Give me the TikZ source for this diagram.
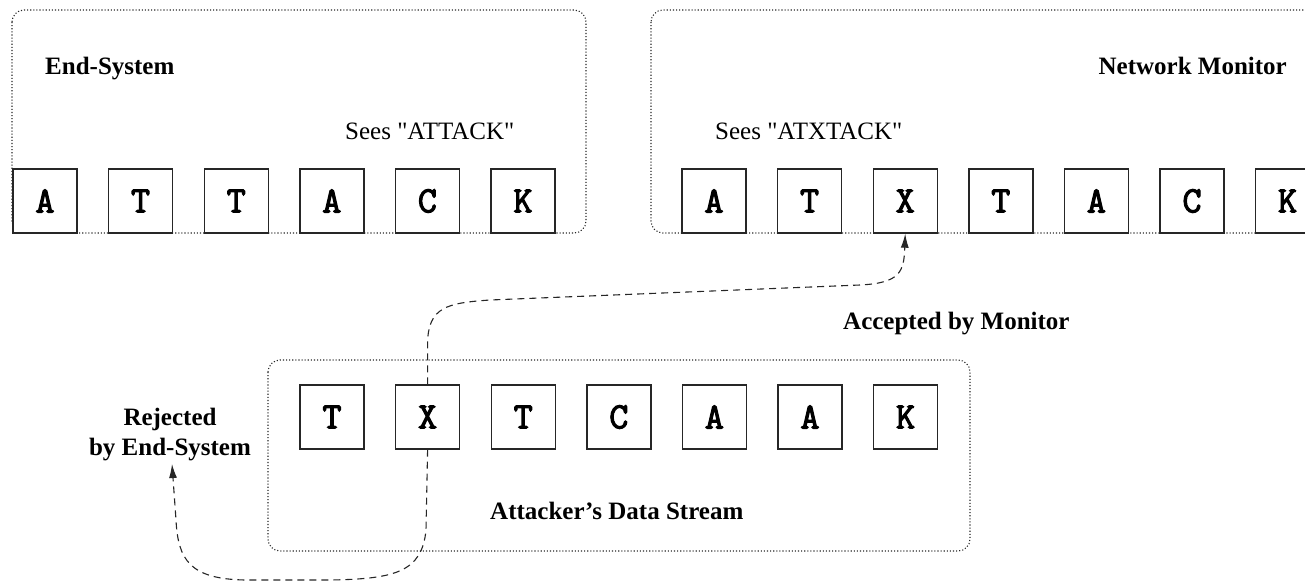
\documentclass[tikz,border=0pt]{standalone}
\usepackage{fontspec}
\setmainfont{Liberation Serif}
\newfontfamily\qfont{Liberation Serif}
\newfontfamily\monofam{Latin Modern Mono}[FakeBold=3]
\usetikzlibrary{arrows.meta}
\begin{document}
\begin{tikzpicture}[x=1pt,y=-1pt,
 region/.style={draw=black!85, dotted, line width=1.1pt, rounded corners=12pt},
 letter/.style={draw=black!85, fill=white, line width=1.4pt, minimum size=64pt, inner sep=0pt, font=\monofam\bfseries\fontsize{37}{37}\selectfont},
 lbl/.style={inner sep=0pt, font=\qfont\fontsize{25}{30}\selectfont},
 blbl/.style={inner sep=0pt, font=\bfseries\fontsize{25}{30}\selectfont},
 flow/.style={line width=1.1pt, draw=black!85, dash pattern=on 7pt off 5pt, -{Latex[length=14pt,width=8pt]}}
]
\useasboundingbox (0,0) rectangle (1305,581);
\clip (0,0) rectangle (1305,581);
% regions
\draw[region] (12,10) rectangle (586,233);
\draw[region] (651,10) rectangle (1340,233);
\draw[region] (268,360) rectangle (970,551);
% letters
\foreach \l [count=\i] in {A,T,T,A,C,K}
  \node[letter] (e\i) at ({45+95.6*(\i-1)},201) {\l};
\foreach \l [count=\i] in {A,T,X,T,A,C,K}
  \node[letter] (m\i) at ({714+95.6*(\i-1)},201) {\l};
\foreach \l [count=\i] in {T,X,T,C,A,A,K}
  \node[letter] (b\i) at ({332+95.6*(\i-1)},417) {\l};
% labels
\node[blbl, anchor=base west] (es) at (45,74) {End-System};
\node[lbl, anchor=base west] (sa) at (345,139) {Sees "ATTACK"};
\node[blbl, anchor=base east] (nm) at (1287,74) {Network Monitor};
\node[lbl, anchor=base west] (sx) at (715,139) {Sees "ATXTACK"};
\node[blbl, anchor=base west] (acc) at (843,329) {Accepted by Monitor};
\node[blbl, align=center, anchor=base] (rej) at (170,455) {Rejected\\[0pt]by End-System};
\node[blbl, anchor=base west] (ads) at (490,519) {Attacker's Data Stream};
\coordinate (rejtip) at (172,464);
% connectors
\draw[flow] (b2.north) -- ++(0,-40) .. controls +(0,-38) and (448,303) .. (490,300) -- (860,285) .. controls (900,283) and (904,272) .. (m3.south);
\draw[flow] (b2.south) -- (426,530) .. controls (422,572) and (395,579) .. (330,580) -- (245,580) .. controls (190,579) and (178,560) .. (176,520) -- (rejtip);
\end{tikzpicture}
\end{document}
